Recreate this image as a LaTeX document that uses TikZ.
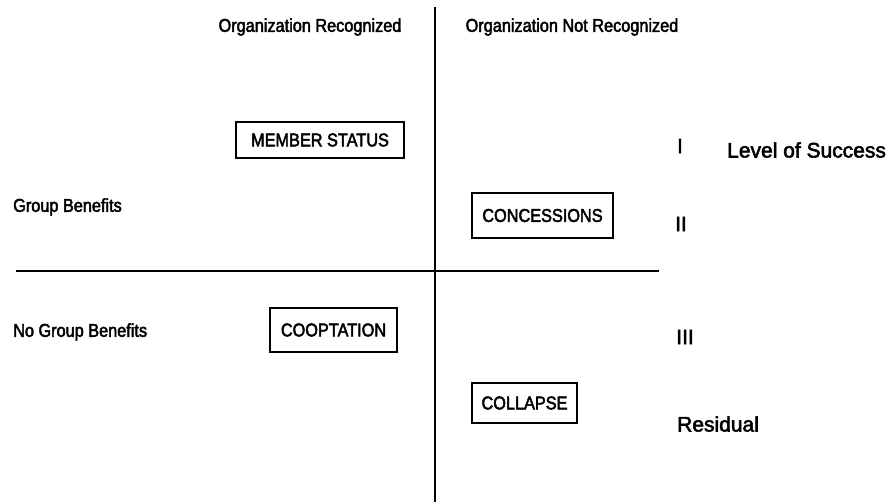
\documentclass[tikz,border=0pt]{standalone}
\usepackage{fontspec}
\setmainfont{Liberation Sans}
\newfontfamily\narrowheavy{Liberation Sans}[FakeStretch=0.88,FakeBold=2.5]
\newfontfamily\heavy{Liberation Sans}[FakeBold=2.5]
\begin{document}
\begin{tikzpicture}[x=1pt,y=-1pt,
  lbl/.style={inner sep=0pt, font=\narrowheavy\fontsize{18.5}{20}\selectfont},
  big/.style={inner sep=0pt, font=\heavy\fontsize{21}{24}\selectfont},
  box/.style={draw, line width=2pt, inner sep=0pt, font=\narrowheavy\fontsize{18.5}{20}\selectfont},
  axis/.style={line width=2.2pt}]
\useasboundingbox (0,0) rectangle (896,502);
% axes
\coordinate (vt) at (435,7);
\coordinate (vb) at (435,502);
\coordinate (hl) at (16,271);
\coordinate (hr) at (659,271);
\draw[axis] (vt) -- (vb);
\draw[axis] (hl) -- (hr);
% headers
\node[lbl] (h1) at (310,27) {Organization Recognized};
\node[lbl] (h2) at (572,27) {Organization Not Recognized};
% left labels
\node[lbl, anchor=west] (gb) at (13,207) {Group Benefits};
\node[lbl, anchor=west] (ngb) at (13,332) {No Group Benefits};
% boxes
\node[box, minimum width=168pt, minimum height=36pt] (ms) at (320,140) {MEMBER STATUS};
\node[box, minimum width=141pt, minimum height=45pt] (con) at (542.5,215.5) {CONCESSIONS};
\node[box, minimum width=127pt, minimum height=44pt] (coop) at (333.5,330) {COOPTATION};
\node[box, minimum width=105pt, minimum height=40pt] (col) at (524.5,403) {COLLAPSE};
% right labels
\node[big] (r1) at (680,146) {I};
\node[big, anchor=west] (los) at (727,150) {Level of Success};
\node[big] (r2) at (681,224) {II};
\node[big] (r3) at (685,337) {III};
\node[big, anchor=west] (res) at (677,424) {Residual};
\end{tikzpicture}
\end{document}
